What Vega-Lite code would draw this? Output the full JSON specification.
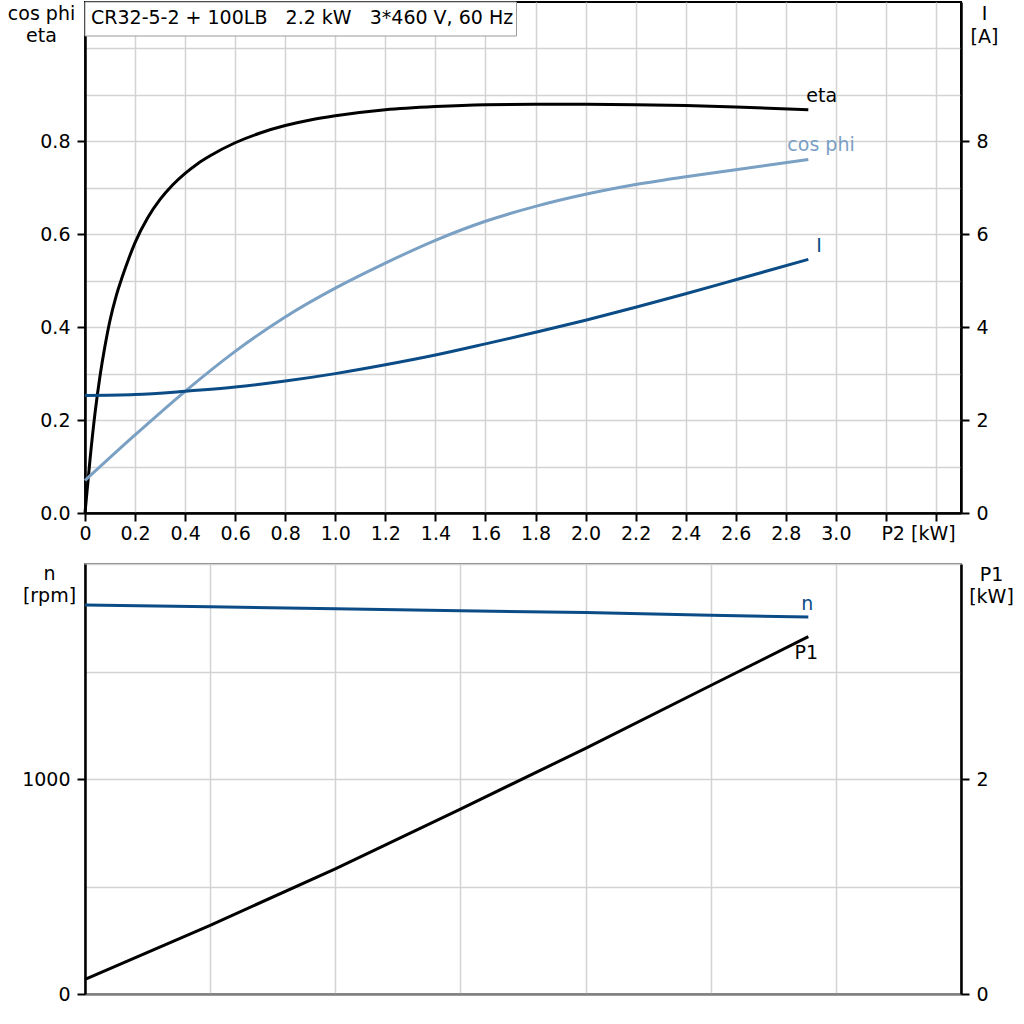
{
  "$schema": "https://vega.github.io/schema/vega-lite/v6.json",
  "padding": {"left": 6, "top": 0, "right": 0, "bottom": 0},
  "background": "white",
  "spacing": 10,
  "config": {
    "font": "DejaVu Sans",
    "axis": {
      "labelFont": "DejaVu Sans", "titleFont": "DejaVu Sans",
      "labelFontSize": 19, "titleFontSize": 19, "titleFontWeight": "normal",
      "labelColor": "black", "titleColor": "black",
      "gridColor": "#d3d3d3", "gridWidth": 1.5,
      "domainColor": "black", "domainWidth": 2.5,
      "tickColor": "black", "tickWidth": 2, "tickSize": 8,
      "labelOverlap": false, "labelFlush": false
    },
    "text": {"fontSize": 19, "font": "DejaVu Sans"}
  },
  "datasets": {
    "topdata": [
      {"series": "eta", "P2": 0, "v": 0},
      {"series": "eta", "P2": 0.02, "v": 0.115},
      {"series": "eta", "P2": 0.04, "v": 0.215},
      {"series": "eta", "P2": 0.06, "v": 0.295},
      {"series": "eta", "P2": 0.08, "v": 0.36},
      {"series": "eta", "P2": 0.1, "v": 0.415},
      {"series": "eta", "P2": 0.125, "v": 0.468},
      {"series": "eta", "P2": 0.15, "v": 0.51},
      {"series": "eta", "P2": 0.175, "v": 0.548},
      {"series": "eta", "P2": 0.2, "v": 0.582},
      {"series": "eta", "P2": 0.25, "v": 0.635},
      {"series": "eta", "P2": 0.3, "v": 0.675},
      {"series": "eta", "P2": 0.35, "v": 0.706},
      {"series": "eta", "P2": 0.4, "v": 0.731},
      {"series": "eta", "P2": 0.45, "v": 0.752},
      {"series": "eta", "P2": 0.5, "v": 0.769},
      {"series": "eta", "P2": 0.6, "v": 0.797},
      {"series": "eta", "P2": 0.7, "v": 0.818},
      {"series": "eta", "P2": 0.8, "v": 0.834},
      {"series": "eta", "P2": 0.9, "v": 0.846},
      {"series": "eta", "P2": 1.0, "v": 0.855},
      {"series": "eta", "P2": 1.2, "v": 0.868},
      {"series": "eta", "P2": 1.4, "v": 0.875},
      {"series": "eta", "P2": 1.6, "v": 0.879},
      {"series": "eta", "P2": 1.8, "v": 0.88},
      {"series": "eta", "P2": 2.0, "v": 0.88},
      {"series": "eta", "P2": 2.2, "v": 0.879},
      {"series": "eta", "P2": 2.4, "v": 0.877},
      {"series": "eta", "P2": 2.6, "v": 0.874},
      {"series": "eta", "P2": 2.89, "v": 0.868},
      {"series": "cos phi", "P2": 0, "v": 0.07},
      {"series": "cos phi", "P2": 0.2, "v": 0.168},
      {"series": "cos phi", "P2": 0.4, "v": 0.262},
      {"series": "cos phi", "P2": 0.6, "v": 0.348},
      {"series": "cos phi", "P2": 0.8, "v": 0.422},
      {"series": "cos phi", "P2": 1.0, "v": 0.484},
      {"series": "cos phi", "P2": 1.2, "v": 0.538},
      {"series": "cos phi", "P2": 1.4, "v": 0.587},
      {"series": "cos phi", "P2": 1.6, "v": 0.628},
      {"series": "cos phi", "P2": 1.8, "v": 0.66},
      {"series": "cos phi", "P2": 2.0, "v": 0.686},
      {"series": "cos phi", "P2": 2.2, "v": 0.707},
      {"series": "cos phi", "P2": 2.4, "v": 0.724},
      {"series": "cos phi", "P2": 2.6, "v": 0.739},
      {"series": "cos phi", "P2": 2.89, "v": 0.761},
      {"series": "I", "P2": 0, "v": 2.53},
      {"series": "I", "P2": 0.2, "v": 2.55},
      {"series": "I", "P2": 0.4, "v": 2.62},
      {"series": "I", "P2": 0.6, "v": 2.71},
      {"series": "I", "P2": 0.8, "v": 2.84},
      {"series": "I", "P2": 1.0, "v": 3.0},
      {"series": "I", "P2": 1.2, "v": 3.19},
      {"series": "I", "P2": 1.4, "v": 3.4},
      {"series": "I", "P2": 1.6, "v": 3.64},
      {"series": "I", "P2": 1.8, "v": 3.89},
      {"series": "I", "P2": 2.0, "v": 4.15},
      {"series": "I", "P2": 2.2, "v": 4.43},
      {"series": "I", "P2": 2.4, "v": 4.72},
      {"series": "I", "P2": 2.6, "v": 5.02},
      {"series": "I", "P2": 2.89, "v": 5.46}
    ],
    "bottomdata": [
      {"series": "n", "P2": 0, "v": 1809},
      {"series": "n", "P2": 0.5, "v": 1801},
      {"series": "n", "P2": 1.0, "v": 1792},
      {"series": "n", "P2": 1.5, "v": 1783},
      {"series": "n", "P2": 2.0, "v": 1774},
      {"series": "n", "P2": 2.5, "v": 1762},
      {"series": "n", "P2": 2.89, "v": 1753},
      {"series": "P1", "P2": 0, "v": 0.137},
      {"series": "P1", "P2": 0.5, "v": 0.639},
      {"series": "P1", "P2": 1.0, "v": 1.165},
      {"series": "P1", "P2": 1.5, "v": 1.72},
      {"series": "P1", "P2": 2.0, "v": 2.285},
      {"series": "P1", "P2": 2.5, "v": 2.87},
      {"series": "P1", "P2": 2.89, "v": 3.324}
    ]
  },
  "vconcat": [
    {
      "width": 876,
      "height": 511,
      "view": {"stroke": "black", "strokeWidth": 2},
      "layer": [
        {
          "data": {"name": "topdata"},
          "layer": [
            {
              "transform": [{"filter": "datum.series != 'I'"}],
              "mark": {"type": "line", "strokeWidth": 3, "interpolate": "monotone"},
              "encoding": {
                "x": {
                  "field": "P2", "type": "quantitative",
                  "scale": {"domain": [0, 3.5], "nice": false, "zero": false},
                  "axis": {
                    "title": null,
                    "values": [0, 0.2, 0.4, 0.6, 0.8, 1.0, 1.2, 1.4, 1.6, 1.8, 2.0, 2.2, 2.4, 2.6, 2.8, 3.0, 3.2, 3.4],
                    "labelExpr": "datum.value == 0 ? '0' : (abs(datum.value - 3.2) < 0.01 ? 'P2 [kW]' : (datum.value > 3.3 ? '' : format(datum.value, '.1f')))",
                    "labelAlign": {"condition": {"test": "abs(datum.value - 3.2) < 0.01", "value": "left"}, "value": "center"},
                    "labelOffset": {"condition": {"test": "abs(datum.value - 3.2) < 0.01", "value": -5}, "value": 0},
                    "labelPadding": 3,
                    "grid": true
                  }
                },
                "y": {
                  "field": "v", "type": "quantitative",
                  "scale": {"domain": [0, 1.1], "nice": false, "zero": false},
                  "axis": {
                    "orient": "left",
                    "values": [0, 0.1, 0.2, 0.3, 0.4, 0.5, 0.6, 0.7, 0.8, 0.9, 1.0],
                    "labelExpr": "(datum.value < 0.85 && round(datum.value * 10) % 2 == 0) ? format(datum.value, '.1f') : ''",
                    "tickOpacity": {"condition": {"test": "datum.value < 0.85 && round(datum.value * 10) % 2 == 0", "value": 1}, "value": 0},
                    "grid": true,
                    "labelPadding": 7,
                    "title": ["cos phi", "eta"],
                    "titleAngle": 0, "titleAlign": "center", "titleBaseline": "alphabetic",
                    "titleX": -44, "titleY": 17, "titleLineHeight": 22
                  }
                },
                "color": {
                  "field": "series", "type": "nominal",
                  "scale": {"domain": ["eta", "cos phi", "I"], "range": ["#000000", "#7aa0c4", "#0b4c86"]},
                  "legend": null
                }
              }
            },
            {
              "transform": [{"filter": "datum.series == 'eta' && datum.P2 == 2.89"}],
              "mark": {"type": "text", "align": "left", "baseline": "alphabetic", "dx": -2, "dy": -8},
              "encoding": {
                "x": {"field": "P2", "type": "quantitative"},
                "y": {"field": "v", "type": "quantitative"},
                "text": {"field": "series"},
                "color": {"field": "series", "type": "nominal", "legend": null}
              }
            },
            {
              "transform": [{"filter": "datum.series == 'cos phi' && datum.P2 == 2.89"}],
              "mark": {"type": "text", "align": "left", "baseline": "alphabetic", "dx": -21, "dy": -8},
              "encoding": {
                "x": {"field": "P2", "type": "quantitative"},
                "y": {"field": "v", "type": "quantitative"},
                "text": {"field": "series"},
                "color": {"field": "series", "type": "nominal", "legend": null}
              }
            },
            {
              "data": {"values": [{"label": "CR32-5-2 + 100LB\u00a0\u00a0\u00a02.2 kW\u00a0\u00a0\u00a03*460 V, 60 Hz"}]},
              "mark": {"type": "rect", "fill": "white", "stroke": "#999999", "strokeWidth": 1},
              "encoding": {
                "x": {"datum": 0},
                "x2": {"datum": 1.724},
                "y": {"datum": 1.1},
                "y2": {"datum": 1.0268}
              }
            },
            {
              "data": {"values": [{"label": "CR32-5-2 + 100LB\u00a0\u00a0\u00a02.2 kW\u00a0\u00a0\u00a03*460 V, 60 Hz"}]},
              "mark": {"type": "text", "align": "left", "baseline": "alphabetic", "dx": 6, "dy": 22, "color": "black"},
              "encoding": {
                "x": {"datum": 0},
                "y": {"datum": 1.1},
                "text": {"field": "label"}
              }
            }
          ]
        },
        {
          "data": {"name": "topdata"},
          "layer": [
            {
              "transform": [{"filter": "datum.series == 'I'"}],
              "mark": {"type": "line", "strokeWidth": 3, "interpolate": "monotone"},
              "encoding": {
                "x": {"field": "P2", "type": "quantitative"},
                "y": {
                  "field": "v", "type": "quantitative",
                  "scale": {"domain": [0, 11], "nice": false, "zero": false},
                  "axis": {
                    "orient": "right",
                    "values": [0, 2, 4, 6, 8],
                    "labelExpr": "format(datum.value, 'd')",
                    "grid": false,
                    "labelPadding": 7,
                    "title": ["I", "[A]"],
                    "titleAngle": 0, "titleAlign": "center", "titleBaseline": "alphabetic",
                    "titleX": 23, "titleY": 17, "titleLineHeight": 23
                  }
                },
                "color": {"field": "series", "type": "nominal", "legend": null}
              }
            },
            {
              "transform": [{"filter": "datum.series == 'I' && datum.P2 == 2.89"}],
              "mark": {"type": "text", "align": "left", "baseline": "alphabetic", "dx": 8, "dy": -7},
              "encoding": {
                "x": {"field": "P2", "type": "quantitative"},
                "y": {"field": "v", "type": "quantitative"},
                "text": {"field": "series"},
                "color": {"field": "series", "type": "nominal", "legend": null}
              }
            }
          ]
        }
      ],
      "resolve": {"scale": {"y": "independent"}}
    },
    {
      "width": 876,
      "height": 430,
      "view": {"stroke": "#808080", "strokeWidth": 2},
      "data": {"name": "bottomdata"},
      "encoding": {
        "x": {
          "field": "P2", "type": "quantitative",
          "scale": {"domain": [0, 3.5], "nice": false, "zero": false},
          "axis": {
            "title": null,
            "values": [0, 0.5, 1, 1.5, 2, 2.5, 3, 3.5],
            "labels": false, "ticks": false,
            "domainColor": "#808080",
            "grid": true
          }
        }
      },
      "layer": [
        {
          "layer": [
            {
              "transform": [{"filter": "datum.series == 'n'"}],
              "mark": {"type": "line", "strokeWidth": 3, "color": "#0b4c86"},
              "encoding": {
                "y": {
                  "field": "v", "type": "quantitative",
                  "scale": {"domain": [0, 2000], "nice": false, "zero": false},
                  "axis": {
                    "orient": "left",
                    "values": [0, 500, 1000, 1500, 2000],
                    "labelExpr": "(datum.value == 0 || datum.value == 1000) ? format(datum.value, 'd') : ''",
                    "tickOpacity": {"condition": {"test": "datum.value == 0 || datum.value == 1000", "value": 1}, "value": 0},
                    "grid": true,
                    "labelPadding": 7,
                    "title": ["n", "[rpm]"],
                    "titleAngle": 0, "titleAlign": "center", "titleBaseline": "alphabetic",
                    "titleX": -36, "titleY": 15, "titleLineHeight": 22
                  }
                }
              }
            },
            {
              "transform": [{"filter": "datum.series == 'n' && datum.P2 == 2.89"}],
              "mark": {"type": "text", "align": "center", "baseline": "alphabetic", "dx": -1, "dy": -7, "color": "#0b4c86"},
              "encoding": {
                "y": {"field": "v", "type": "quantitative"},
                "text": {"field": "series"}
              }
            }
          ]
        },
        {
          "layer": [
            {
              "transform": [{"filter": "datum.series == 'P1'"}],
              "mark": {"type": "line", "strokeWidth": 3, "color": "#000000"},
              "encoding": {
                "y": {
                  "field": "v", "type": "quantitative",
                  "scale": {"domain": [0, 4], "nice": false, "zero": false},
                  "axis": {
                    "orient": "right",
                    "values": [0, 2],
                    "labelExpr": "format(datum.value, 'd')",
                    "grid": false,
                    "labelPadding": 7,
                    "title": ["P1", "[kW]"],
                    "titleAngle": 0, "titleAlign": "center", "titleBaseline": "alphabetic",
                    "titleX": 30, "titleY": 16, "titleLineHeight": 22
                  }
                }
              }
            },
            {
              "transform": [{"filter": "datum.series == 'P1' && datum.P2 == 2.89"}],
              "mark": {"type": "text", "align": "center", "baseline": "alphabetic", "dx": -2, "dy": 22, "color": "#000000"},
              "encoding": {
                "y": {"field": "v", "type": "quantitative"},
                "text": {"field": "series"}
              }
            }
          ]
        }
      ],
      "resolve": {"scale": {"y": "independent"}}
    }
  ]
}
